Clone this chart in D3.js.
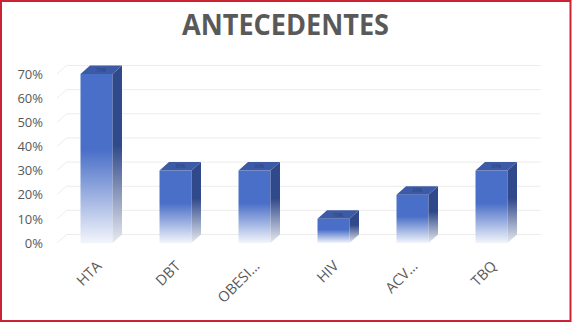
<!DOCTYPE html>
<meta charset="utf-8">
<style>
  html, body { margin: 0; padding: 0; background: #fff; overflow: hidden; }
  text { font-family: "Open Sans", "DejaVu Sans", sans-serif; fill: #595959; }
  .axis path, .axis line { display: none; }
  .axis text { font-size: 13px; }
  .grid { fill: none; stroke: #ececec; stroke-width: 1px; }
  .xlabel { font-size: 14.5px; }
  .title { font-size: 28px; font-weight: bold; }
  .toplabel { font-size: 5px; fill: #2b3f78; }
</style>
<body>
<svg></svg>
<script src="https://d3js.org/d3.v7.min.js"></script>
<script>

  var categories = ["HTA", "DBT", "OBESI…", "HIV", "ACV…", "TBQ"];
  var values = [0.70, 0.30, 0.30, 0.10, 0.20, 0.30];
  var yTicks = [0, 0.1, 0.2, 0.3, 0.4, 0.5, 0.6, 0.7];

  var width = 572, height = 324;
  // 3d depth offset of the back wall
  var DX = 9.5, DY = -8.5;

  var svg = d3.select("svg")
    .attr("width", width)
    .attr("height", height);

  var defs = svg.append("defs");

  var front = defs.append("linearGradient")
    .attr("id", "front").attr("x1", 0).attr("y1", 0).attr("x2", 0).attr("y2", 1);
  front.append("stop").attr("offset", "0").attr("stop-color", "#4a6fc8");
  front.append("stop").attr("offset", "0.45").attr("stop-color", "#4a6fc8");
  front.append("stop").attr("offset", "1").attr("stop-color", "#f2f5fb");

  var side = defs.append("linearGradient")
    .attr("id", "side").attr("x1", 0).attr("y1", 0).attr("x2", 0).attr("y2", 1);
  side.append("stop").attr("offset", "0").attr("stop-color", "#30498a");
  side.append("stop").attr("offset", "0.45").attr("stop-color", "#30498a");
  side.append("stop").attr("offset", "1").attr("stop-color", "#e8eaf0");

  var x = d3.scaleBand()
    .domain(categories)
    .range([57, 531])
    .paddingInner(0.595)
    .paddingOuter(0.2975);

  var y = d3.scaleLinear()
    .domain([0, 0.7])
    .range([243, 74]);

  // gridlines: left wall diagonal + back wall horizontal
  svg.append("g")
    .selectAll("path")
    .data(yTicks)
    .enter()
    .append("path")
      .attr("class", "grid")
      .attr("d", function(d) {
        var yy = y(d);
        return "M" + x.range()[0] + "," + yy +
               "L" + (x.range()[0] + DX) + "," + (yy + DY) +
               "L" + (x.range()[1] + DX) + "," + (yy + DY);
      });

  svg.append("g")
    .attr("class", "axis")
    .attr("transform", "translate(" + x.range()[0] + ",0)")
    .call(d3.axisLeft(y).tickValues(yTicks).tickFormat(d3.format(".0%")).tickSize(0).tickPadding(14));

  var bars = svg.append("g")
    .selectAll("g")
    .data(categories)
    .enter()
    .append("g");

  var bw = x.bandwidth();

  bars.append("rect")
    .attr("x", function(d) { return x(d); })
    .attr("y", function(d, i) { return y(values[i]); })
    .attr("width", bw)
    .attr("height", function(d, i) { return y(0) - y(values[i]); })
    .style("fill", "url(#front)");

  bars.append("path")
    .style("fill", "url(#side)")
    .attr("d", function(d, i) {
      var x0 = x(d) + bw, yt = y(values[i]), yb = y(0);
      return "M" + x0 + "," + yt + "L" + (x0 + DX) + "," + (yt + DY) +
             "L" + (x0 + DX) + "," + (yb + DY) + "L" + x0 + "," + yb + "Z";
    });

  bars.append("path")
    .style("fill", "#3d5aa6")
    .attr("d", function(d, i) {
      var x0 = x(d), yt = y(values[i]);
      return "M" + x0 + "," + yt + "L" + (x0 + DX) + "," + (yt + DY) +
             "L" + (x0 + bw + DX) + "," + (yt + DY) + "L" + (x0 + bw) + "," + yt + "Z";
    });

  bars.append("text")
    .attr("class", "toplabel")
    .attr("x", function(d) { return x(d) + bw / 2 + DX / 2; })
    .attr("y", function(d, i) { return y(values[i]) + DY / 2 + 2; })
    .attr("text-anchor", "middle")
    .text(function(d, i) { return d3.format(".0%")(values[i]); });

  svg.append("g")
    .selectAll("text")
    .data(categories)
    .enter()
    .append("text")
      .attr("class", "xlabel")
      .attr("text-anchor", "end")
      .attr("transform", function(d) {
        return "translate(" + (x(d) + bw / 2 + 6) + ",267) rotate(-45)";
      })
      .text(function(d) { return d; });

  svg.append("text")
    .attr("class", "title")
    .attr("x", 285.5)
    .attr("y", 35)
    .attr("text-anchor", "middle")
    .attr("textLength", 207)
    .attr("lengthAdjust", "spacingAndGlyphs")
    .text("ANTECEDENTES");

  // red frame
  svg.append("rect")
    .attr("x", 1)
    .attr("y", 1)
    .attr("width", 569.5)
    .attr("height", 320)
    .style("fill", "none")
    .style("stroke", "#cc2233")
    .style("stroke-width", 2);
</script>
</body>
</html>
